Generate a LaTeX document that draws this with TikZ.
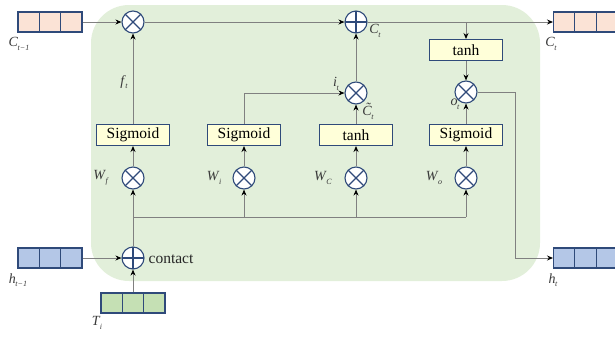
\documentclass[tikz,border=0pt]{standalone}
\usepackage{fontspec}
\setmainfont{Liberation Serif}
\usetikzlibrary{arrows.meta,calc}

\definecolor{cellbg}{HTML}{E2EFDA}
\definecolor{navy}{HTML}{2F4A7A}
\definecolor{peach}{HTML}{FBE3D6}
\definecolor{hblue}{HTML}{B4C7E7}
\definecolor{tgreen}{HTML}{C5E0B4}
\definecolor{gatey}{HTML}{FFFFD9}
\definecolor{wiregray}{HTML}{808080}
\definecolor{labgray}{HTML}{3A3A3A}

% italic symbol with a small italic subscript
\newcommand\lbl[2]{\textit{#1}\kern-0.5pt\raisebox{-3.5pt}{\fontsize{8}{8}\selectfont\textit{#2}}}
% italic C with a tilde set above it
\newcommand\tildeC{\makebox[0pt][l]{\kern3.2pt\raisebox{3.2pt}{\textit{\char"02DC}}}\textit{C}}

\tikzset{
  op/.style={circle, draw=navy, line width=1.1pt, fill=white,
    minimum size=22pt, inner sep=0pt},
  mul/.style={op, path picture={\draw[navy, line width=1.1pt]
    (path picture bounding box.north west) -- (path picture bounding box.south east)
    (path picture bounding box.north east) -- (path picture bounding box.south west);}},
  add/.style={op, path picture={\draw[navy, line width=1.1pt]
    (path picture bounding box.north) -- (path picture bounding box.south)
    (path picture bounding box.west) -- (path picture bounding box.east);}},
  gate/.style={rectangle, draw=navy, line width=1pt, fill=gatey,
    minimum width=73pt, minimum height=21pt, inner sep=0pt,
    font=\fontsize{15.5}{16}\selectfont},
  vec/.style={rectangle, draw=navy, line width=1.1pt,
    minimum width=64pt, minimum height=20pt, inner sep=0pt,
    path picture={\draw[navy, line width=1.1pt]
      ($(path picture bounding box.north west)!1/3!(path picture bounding box.north east)$) --
      ($(path picture bounding box.south west)!1/3!(path picture bounding box.south east)$)
      ($(path picture bounding box.north west)!2/3!(path picture bounding box.north east)$) --
      ($(path picture bounding box.south west)!2/3!(path picture bounding box.south east)$);}},
  wire/.style={draw=wiregray, line width=0.9pt},
  arr/.style={wire, -{Stealth[length=6pt, width=5pt, black]}},
  lab/.style={text=labgray, font=\fontsize{14}{14}\selectfont, inner sep=0pt},
}

\begin{document}
\begin{tikzpicture}[x=1pt, y=-1pt]
  \useasboundingbox (0,0) rectangle (615,338);
  \clip (0,0) rectangle (615,338);

  % cell body
  \fill[cellbg, rounded corners=38pt] (91,5) rectangle (540,281);

  % state vectors
  \node[vec, fill=peach] (cprev) at (50,22) {};
  \node[vec, fill=peach, anchor=west] (cnext) at (553,22) {};
  \node[vec, fill=hblue] (hprev) at (50,258) {};
  \node[vec, fill=hblue, anchor=west] (hnext) at (553,258) {};
  \node[vec, fill=tgreen] (tin) at (133,303) {};

  % point-wise operations
  \node[mul] (mf) at (133,22) {};
  \node[add] (pc) at (356,22) {};
  \node[mul] (mi) at (356,93) {};
  \node[mul] (mo) at (466,92) {};
  \node[mul] (wf) at (133,178) {};
  \node[mul] (wi) at (244,178) {};
  \node[mul] (wc) at (356,178) {};
  \node[mul] (wo) at (466,178) {};
  \node[add] (cat) at (133,258) {};

  % activation layers
  \node[gate] (tanhout) at (466,50) {tanh};
  \node[gate] (sf) at (133,135) {Sigmoid};
  \node[gate] (si) at (244,135) {Sigmoid};
  \node[gate] (tc) at (356,135) {tanh};
  \node[gate] (so) at (466,135) {Sigmoid};

  % wiring helpers
  \coordinate (tap) at (466,22);
  \coordinate (bus) at (133,217);
  \coordinate (busend) at (466,217);
  \coordinate (turn) at (515,92);

  % cell state path
  \draw[arr] (cprev) -- (mf);
  \draw[arr] (mf) -- (pc);
  \draw[arr] (pc) -- (cnext);
  \draw[arr] (tap) -- (tanhout);
  \draw[arr] (tanhout) -- (mo);
  \draw[arr] (mo) -- (turn) |- (hnext);

  % gates into the cell state
  \draw[arr] (sf) -- (mf);
  \draw[arr] (si) |- (mi);
  \draw[arr] (tc) -- (mi);
  \draw[arr] (mi) -- (pc);
  \draw[arr] (so) -- (mo);

  % weights into the layers
  \draw[arr] (wf) -- (sf);
  \draw[arr] (wi) -- (si);
  \draw[arr] (wc) -- (tc);
  \draw[arr] (wo) -- (so);

  % concatenated input bus
  \draw[arr] (cat) -- (wf);
  \draw[wire] (bus) -- (busend);
  \draw[arr] (bus -| wi) -- (wi);
  \draw[arr] (bus -| wc) -- (wc);
  \draw[arr] (busend) -- (wo);
  \draw[arr] (hprev) -- (cat);
  \draw[arr] (tin) -- (cat);

  % labels
  \node[lab] (lcprev) at (19,44) {\lbl{C}{t−1}};
  \node[lab] (lcnext) at (551,44) {\lbl{C}{t}};
  \node[lab] (lhprev) at (18,280) {\lbl{h}{t−1}};
  \node[lab] (lhnext) at (553,280) {\lbl{h}{t}};
  \node[lab] (ltin) at (97,323) {\lbl{T}{i}};
  \node[lab] (lf) at (124,82) {\lbl{f}{t}};
  \node[lab] (li) at (336,84) {\lbl{i}{t}};
  \node[lab] (lct) at (368,111) {\lbl{\tildeC}{t}};
  \node[lab] (lc) at (375,31) {\lbl{C}{t}};
  \node[lab] (lo) at (455,104) {\lbl{o}{t}};
  \node[lab] (lwf) at (101,178) {\lbl{W}{f}};
  \node[lab] (lwi) at (214,178) {\lbl{W}{i}};
  \node[lab] (lwc) at (323,178) {\lbl{W}{C}};
  \node[lab] (lwo) at (434,178) {\lbl{W}{o}};
  \node[lab, font=\fontsize{15.5}{16}\selectfont, text=black!85] (lcat) at (171,259) {contact};
\end{tikzpicture}
\end{document}
